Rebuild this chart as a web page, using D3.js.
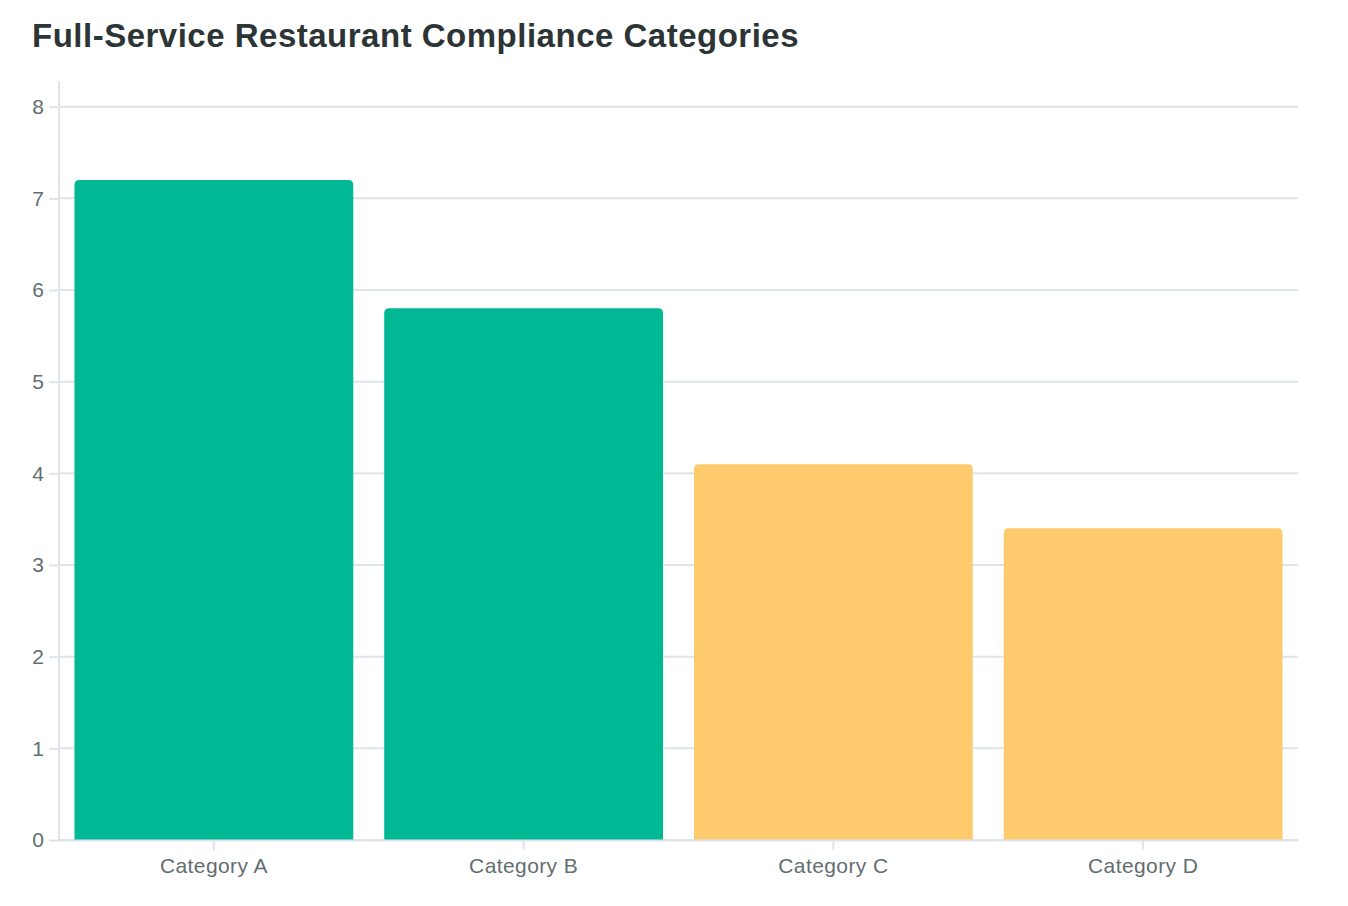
<!DOCTYPE html>
<html>
<head>
<meta charset="utf-8">
<script src="https://cdn.jsdelivr.net/npm/d3@7"></script>
<style>
  body { margin: 0; background: #fff; }
  svg { display: block; font-family: "Liberation Sans", Arial, Helvetica, sans-serif; }
</style>
</head>
<body>
<svg width="1348" height="906"></svg>
<script>
// chart data
var categories = ["Category A", "Category B", "Category C", "Category D"];
var values = [7.2, 5.8, 4.1, 3.4];
var groups = ["high", "high", "low", "low"];
var yTicks = [0, 1, 2, 3, 4, 5, 6, 7, 8];

var svg = d3.select("svg");
var width = 1348, height = 906;
var margin = { top: 81, right: 50, bottom: 66, left: 59 };
var innerW = width - margin.left - margin.right;
var innerH = height - margin.top - margin.bottom;

var colour = d3.scaleOrdinal().domain(["high", "low"]).range(["#00b894", "#fdcb6e"]);

// title
svg.append("text")
    .attr("x", 32)
    .attr("y", 47)
    .attr("fill", "#2d3436")
    .style("font-size", "33px")
    .style("font-weight", "bold")
    .style("letter-spacing", "0.5px")
    .text("Full-Service Restaurant Compliance Categories");

var g = svg.append("g").attr("transform", "translate(" + margin.left + "," + margin.top + ")");

var x = d3.scaleBand()
    .domain(categories)
    .range([0, innerW])
    .paddingInner(0.1)
    .paddingOuter(0.05);

var y = d3.scaleLinear()
    .domain([0, d3.max(values) * 1.15])
    .range([innerH, 0]);

// gridlines
g.append("g")
    .selectAll("line")
    .data(yTicks)
    .enter().append("line")
    .attr("x1", 0)
    .attr("x2", innerW)
    .attr("y1", d => y(d))
    .attr("y2", d => y(d))
    .attr("stroke", "#dfe4ea")
    .attr("stroke-width", 2);

// bars with rounded tops
var r = 5;
g.append("g")
    .selectAll("path")
    .data(values)
    .enter().append("path")
    .attr("fill", (d, i) => colour(groups[i]))
    .attr("d", function (d, i) {
        var x0 = x(categories[i]), w = x.bandwidth();
        var y0 = y(d), yb = y(0);
        return "M" + x0 + "," + yb +
            "V" + (y0 + r) +
            "Q" + x0 + "," + y0 + " " + (x0 + r) + "," + y0 +
            "H" + (x0 + w - r) +
            "Q" + (x0 + w) + "," + y0 + " " + (x0 + w) + "," + (y0 + r) +
            "V" + yb + "Z";
    });

// axes
var yAxis = g.append("g")
    .call(d3.axisLeft(y).tickValues(yTicks).tickSize(10).tickPadding(5).tickFormat(d3.format("d")));
var xAxis = g.append("g")
    .attr("transform", "translate(0," + innerH + ")")
    .call(d3.axisBottom(x).tickSize(10).tickSizeOuter(0).tickPadding(8));

[xAxis, yAxis].forEach(function (a) {
    a.select(".domain").attr("stroke", "#dfe4ea").attr("stroke-width", 2);
    a.selectAll(".tick line").attr("stroke", "#dfe4ea").attr("stroke-width", 2);
    a.selectAll(".tick text")
        .attr("fill", "#636e72")
        .style("font-size", "21px")
        .style("font-family", "'Liberation Sans', Arial, sans-serif");
});
xAxis.selectAll(".tick text").style("letter-spacing", "0.4px");
yAxis.select(".domain").attr("d", "M0," + innerH + "V0");
</script>
</body>
</html>
